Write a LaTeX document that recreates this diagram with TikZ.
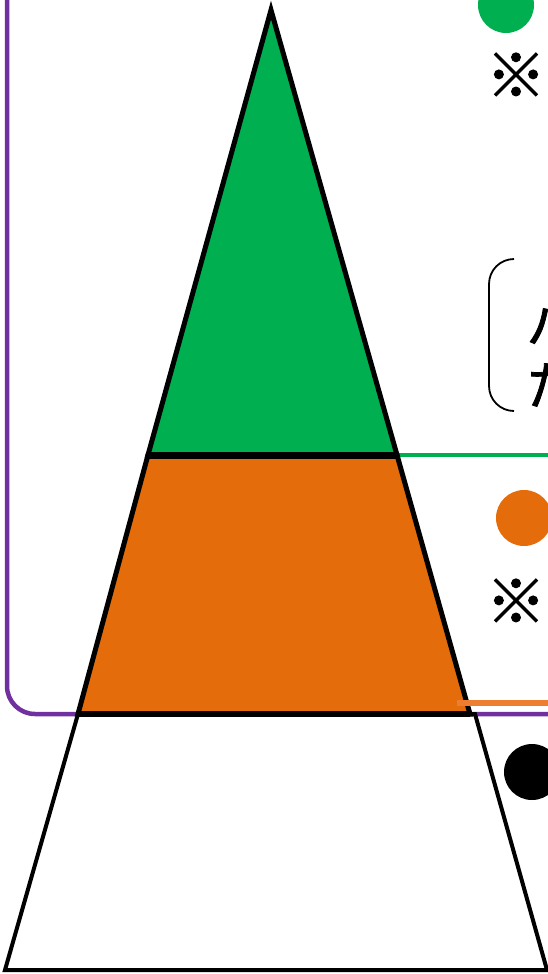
\documentclass[tikz,border=0pt]{standalone}
\usepackage{fontspec}
\newfontfamily\jpfont{Noto Sans CJK JP}[FakeBold=1.5]
\definecolor{tiergreen}{RGB}{0,176,80}
\definecolor{tierorange}{RGB}{228,108,10}
\definecolor{lineorange}{RGB}{237,125,49}
\definecolor{framepurple}{RGB}{112,48,160}
\usetikzlibrary{positioning}

\begin{document}
\begin{tikzpicture}[x=1pt, y=-1pt,
  tier/.style={draw=black, line width=5pt, line join=miter},
  dotmark/.style={circle, inner sep=0pt, minimum size=56pt},
  kome/.style={font=\jpfont\fontsize{60}{60}\selectfont, inner sep=0pt},
  jptext/.style={font=\jpfont\fontsize{52}{52}\selectfont, anchor=west, inner sep=0pt}]
\useasboundingbox (0,0) rectangle (548,974);
\clip (0,0) rectangle (548,974);
% corners of the pyramid
\coordinate (apex) at (271,10);
\coordinate (gl) at (148,455);
\coordinate (gr) at (397,455);
\coordinate (ol) at (78,714);
\coordinate (or) at (470,714);
\coordinate (wr) at (475,714);
\coordinate (bl) at (5,970);
\coordinate (br) at (547,970);
\coordinate (edge) at (560,0);
% frame and guide lines
\draw[framepurple, line width=4.5pt, rounded corners=28pt] (7,-40) -- (7,714) -- (edge |- ol);
\draw[tiergreen, line width=4.5pt] (gr) -- (gr -| edge);
% pyramid
\filldraw[tier, line width=4pt, fill=white] (ol) -- (wr) -- (br) -- (bl) -- cycle;
\filldraw[tier, fill=tierorange] (gl) -- (gr) -- (or) -- (ol) -- cycle;
\filldraw[tier, fill=tiergreen] (apex) -- (gr) -- (gl) -- cycle;
\draw[line width=7pt] (gl) -- (gr);
\draw[line width=6.5pt] (ol) -- (or);
\coordinate (oline) at (457,703);
\draw[lineorange, line width=5.5pt] (oline) -- (oline -| edge);
% notes on the right
\node[dotmark, fill=tiergreen] (dot1) at (506,5) {};
\node[kome] (kome1) at (516,75) {※};
\draw[line width=1.8pt, rounded corners=25pt] (514,259) -- (489,259) -- (489,411) -- (514,411);
\node[jptext] (note1) at (526,326) {ハ};
\node[jptext] (note2) at (526,385) {た};
\node[dotmark, fill=tierorange] (dot2) at (524,518) {};
\node[kome] (kome2) at (516,601) {※};
\node[dotmark, fill=black] (dot3) at (532,772) {};
\end{tikzpicture}
\end{document}
